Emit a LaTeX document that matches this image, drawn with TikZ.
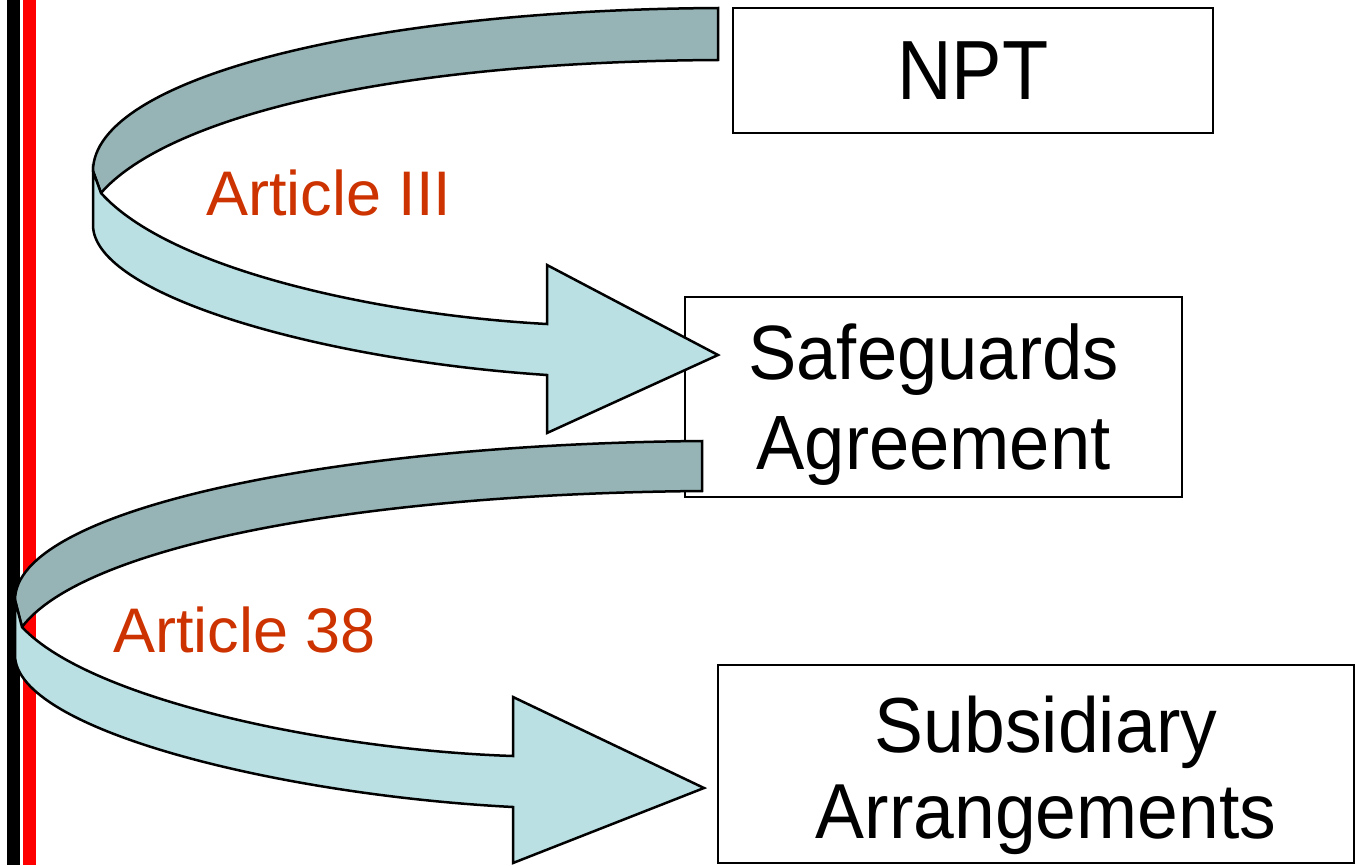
\documentclass[tikz,border=0pt]{standalone}
\usepackage{fontspec}
\setmainfont{Liberation Sans}
\newfontfamily\nptfont[FakeStretch=0.9]{Liberation Sans}
\newfontfamily\docfont[FakeStretch=0.94]{Liberation Sans}
\definecolor{bandback}{RGB}{150,180,182}
\definecolor{bandfront}{RGB}{186,224,227}
\definecolor{articlered}{RGB}{204,51,0}

\begin{document}
\begin{tikzpicture}[x=1pt,y=-1pt,
    doc/.style={draw,line width=2pt,fill=white,inner sep=0pt},
    doctext/.style={inner sep=0pt,align=center},
    band/.style={draw,line width=2.5pt,line join=miter},
    article/.style={text=articlered,inner sep=0pt,anchor=base west,
      font=\fontsize{63}{72}\selectfont}]
  \useasboundingbox (0,0) rectangle (1355,865);
  % side bars
  \fill[black] (7,0) rectangle (20,865);
  \fill[red] (23,0) rectangle (36,865);
  % documents
  \node[doc,minimum width=480pt,minimum height=125pt,
    font=\nptfont\fontsize{84}{90}\selectfont] at (973,70.5) (npt) {NPT};
  \node[doc,minimum width=497pt,minimum height=200pt] at (933.5,397) (sgbox) {};
  \node[doctext,font=\docfont\fontsize{77}{90}\selectfont]
    at ([yshift=-8pt]sgbox.center) (sg) {Safeguards\\Agreement};
  \node[doc,minimum width=636pt,minimum height=198pt] at (1036,764) (subbox) {};
  \node[doctext,font=\docfont\fontsize{78}{86}\selectfont]
    at ([xshift=10pt,yshift=-11pt]subbox.center) (sub) {Subsidiary\\Arrangements};
  % Article III arrow
  \draw[band,fill=bandback] (718,8) .. controls (360,10) and (93,80) .. (93,171)
    -- (101,193) .. controls (160,125) and (360,62) .. (718,60) -- cycle;
  \draw[band,fill=bandfront] (93,171) -- (93,225)
    .. controls (93,295) and (320,360) .. (547,375)
    -- (547,433) -- (718,355) -- (547,265) -- (547,324)
    .. controls (380,315) and (170,270) .. (101,193) -- cycle;
  % Article 38 arrow
  \draw[band,fill=bandback] (702,441) .. controls (330,444) and (15,510) .. (15,600)
    -- (22,627) .. controls (80,550) and (340,494) .. (702,491) -- cycle;
  \draw[band,fill=bandfront] (15,600) -- (15,655)
    .. controls (15,730) and (280,795) .. (513,807)
    -- (513,863) -- (704,788) -- (513,697) -- (513,756)
    .. controls (330,750) and (90,700) .. (22,627) -- cycle;
  % labels
  \node[article] at (206,215) (art3) {Article III};
  \node[article] at (113,652) (art38) {Article 38};
\end{tikzpicture}
\end{document}
